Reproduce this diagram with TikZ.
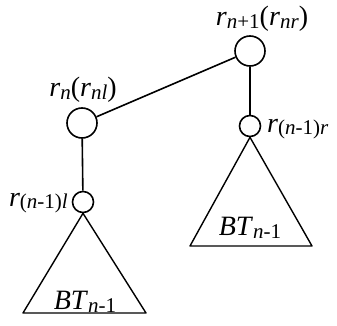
\documentclass[tikz,border=0pt]{standalone}
\usepackage{fontspec}
\setmainfont{Liberation Serif}
\newcommand\lbsub[1]{\raisebox{-0.2ex}{\fontsize{21}{21}\selectfont #1}}
\begin{document}
\begin{tikzpicture}[x=1pt,y=-1pt,
  nd/.style={circle,draw,line width=1.6pt,inner sep=0pt},
  big/.style={nd,minimum size=30pt},
  small/.style={nd,minimum size=21pt},
  tri/.style={line width=1.4pt,line join=round},
  lbl/.style={font=\fontsize{28}{28}\selectfont,inner sep=0pt},
  edge/.style={line width=1.6pt}]
\useasboundingbox (0,0) rectangle (337,326);
\node[big] (top) at (250,51) {};
\node[big] (left) at (82,123) {};
\node[small] (rr) at (250,126) {};
\node[small] (rl) at (83,202) {};
\coordinate (rA) at (190,246);
\coordinate (rB) at (312,246);
\coordinate (lA) at (23,313);
\coordinate (lB) at (146,313);
\draw[edge] (top) -- (left);
\draw[edge] (top) -- (rr);
\draw[edge] (left) -- (rl);
\draw[tri] (rr.south) -- (rB) -- (rA) -- cycle;
\draw[tri] (rl.south) -- (lB) -- (lA) -- cycle;
\node[lbl] (ltop) at (262,19) {\textit{r}\lbsub{\textit{n}+1}(\textit{r}\lbsub{\textit{nr}})};
\node[lbl] (lleft) at (83,90) {\textit{r}\lbsub{\textit{n}}(\textit{r}\lbsub{\textit{nl}})};
\node[lbl,anchor=west] (lrr) at (267,129) {\textit{r}\lbsub{(\textit{n}-1)\textit{r}}};
\node[lbl,anchor=east] (lrl) at (68,203) {\textit{r}\lbsub{(\textit{n}-1)\textit{l}}};
\node[lbl] (btr) at (250,228) {\textit{BT}\lbsub{\textit{n}-1}};
\node[lbl] (btl) at (85,302) {\textit{BT}\lbsub{\textit{n}-1}};
\end{tikzpicture}
\end{document}
